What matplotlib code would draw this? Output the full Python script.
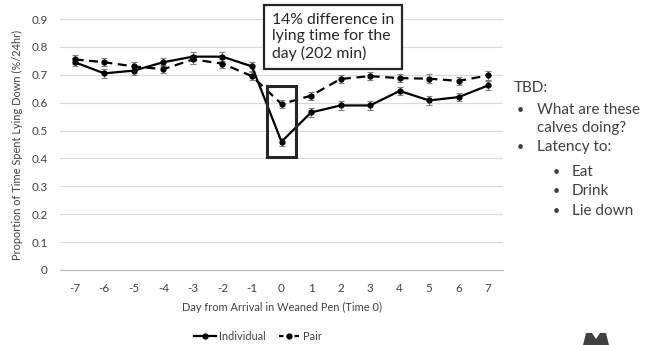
import numpy as np
import matplotlib

matplotlib.use("Agg")
import matplotlib.pyplot as plt
from matplotlib.lines import Line2D
from matplotlib.patches import Rectangle, Polygon

plt.rcParams["font.family"] = ["Lato", "DejaVu Sans"]

# ---------------------------------------------------------------------------
# Data
# ---------------------------------------------------------------------------
days = [-7, -6, -5, -4, -3, -2, -1, 0, 1, 2, 3, 4, 5, 6, 7]
individual = [0.745, 0.705, 0.715, 0.745, 0.765, 0.765, 0.730, 0.460,
              0.565, 0.590, 0.590, 0.642, 0.608, 0.620, 0.662]
pair = [0.755, 0.745, 0.730, 0.720, 0.755, 0.740, 0.695, 0.595,
        0.625, 0.685, 0.695, 0.688, 0.686, 0.678, 0.698]
individual_err = [0.015] * len(days)
pair_err = [0.015] * len(days)
y_ticks = [0, 0.1, 0.2, 0.3, 0.4, 0.5, 0.6, 0.7, 0.8, 0.9]
y_labels = ["0", "0.1", "0.2", "0.3", "0.4", "0.5", "0.6", "0.7", "0.8", "0.9"]

fig = plt.figure(figsize=(6.46, 3.45), dpi=100)
ax = fig.add_axes([60 / 646, 1 - 270 / 345, 443 / 646, 251 / 345])

ax.errorbar(days, individual, yerr=individual_err, color="black", lw=1.6,
            marker="o", ms=3.5, ecolor="#808080", elinewidth=0.8, capsize=2,
            capthick=0.8, zorder=3)
ax.errorbar(days, pair, yerr=pair_err, color="black", lw=1.6, ls=(0, (4, 2.5)),
            marker="o", ms=3.5, ecolor="#808080", elinewidth=0.8, capsize=2,
            capthick=0.8, zorder=3)

ax.set_xlim(-7.5, 7.5)
ax.set_ylim(0, 0.9)
ax.set_xticks(days)
ax.set_xticklabels([str(d) for d in days])
ax.set_yticks(y_ticks)
ax.set_yticklabels(y_labels)
ax.tick_params(length=0, labelsize=8.4, colors="#404040", pad=9)
ax.yaxis.grid(True, color="#d9d9d9", lw=0.8)
ax.set_axisbelow(True)
for s in ["top", "right", "left"]:
    ax.spines[s].set_visible(False)
ax.spines["bottom"].set_color("#bfbfbf")
ax.spines["bottom"].set_linewidth(0.9)

ax.set_ylabel("Proportion of Time Spent Lying Down (%/24hr)", fontsize=7.9,
              color="#404040", labelpad=6)
ax.set_xlabel("Day from Arrival in Weaned Pen (Time 0)", fontsize=7.9,
              color="#404040", labelpad=6)

# highlight box around day 0
ax.add_patch(Rectangle((-0.5, 0.405), 0.98, 0.255, fill=False, ec="#262626",
                       lw=2.2, zorder=4, clip_on=False))

# annotation callout
fig.text(272 / 646, 1 - 37 / 345, "14% difference in\nlying time for the\nday (202 min)",
         fontsize=11.3, color="#262626", va="center", ha="left", linespacing=1.25,
         bbox=dict(boxstyle="square,pad=0.5", fc="white", ec="#262626", lw=1.6))

# legend
handles = [
    Line2D([], [], color="black", lw=1.6, marker="o", ms=3.5),
    Line2D([], [], color="black", lw=1.6, ls=(0, (2, 1.5)), marker="o", ms=3.5),
]
fig.legend(handles, ["Individual", "Pair"], loc="center", ncol=2,
           bbox_to_anchor=(258 / 646, 1 - 336 / 345), frameon=False,
           fontsize=7.9, handlelength=2.0, handletextpad=0.2, columnspacing=1.2,
           labelcolor="#404040")

# side notes
fig.text(514 / 646, 1 - 88 / 345, "TBD:", fontsize=11, color="#404040", va="center")
notes = [
    (517, 537, 110, "What are these"),
    (None, 537, 128, "calves doing?"),
    (517, 537, 147, "Latency to:"),
    (553, 572, 172, "Eat"),
    (553, 572, 191, "Drink"),
    (553, 572, 211, "Lie down"),
]
for bx, tx, ty, txt in notes:
    if bx is not None:
        fig.text(bx / 646, 1 - ty / 345, "\u2022", fontsize=9, color="#404040",
                 va="center")
    fig.text(tx / 646, 1 - ty / 345, txt, fontsize=11, color="#404040", va="center")

# partial logo at bottom edge (block M shape)
logo = [(583, 345), (586, 333), (592, 333), (596, 339), (600, 333), (606, 333),
        (609, 345)]
fig.patches.append(Polygon([(x / 646, 1 - y / 345) for x, y in logo], closed=True,
                           fc="#404040", ec="none", transform=fig.transFigure))

fig.savefig("out.png", dpi=100)
